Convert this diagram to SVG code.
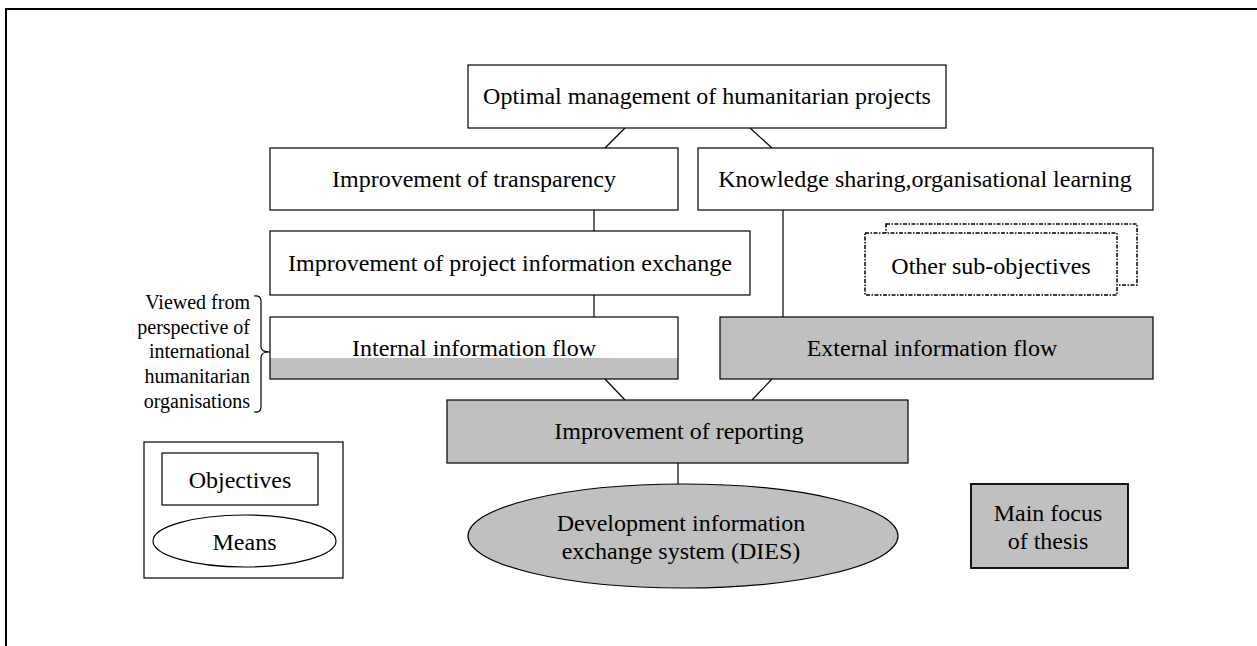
<svg xmlns="http://www.w3.org/2000/svg" width="1257" height="646" viewBox="0 0 1257 646">
  <defs>
    <style>
      .box { fill: #ffffff; stroke: #000000; stroke-width: 1.2; }
      .grey { fill: #c0c0c0; stroke: #000000; stroke-width: 1.2; }
      .dash { fill: #ffffff; stroke: #000000; stroke-width: 1.5; stroke-dasharray: 4 1.5 1.5 1.5; }
      .conn { stroke: #000000; stroke-width: 1.2; fill: none; }
      text { font-family: "Liberation Serif", "Times New Roman", serif; fill: #000000; }
      .lbl { font-size: 24px; text-anchor: middle; }
      .side { font-size: 20px; text-anchor: end; }
    </style>
  </defs>
  <rect width="1257" height="646" fill="#ffffff"/>

  <!-- outer frame (open to the right and bottom) -->
  <path d="M6,646 V9 H1257" fill="none" stroke="#000000" stroke-width="2"/>

  <!-- connectors -->
  <g id="connectors">
    <line class="conn" x1="625" y1="128" x2="605" y2="148"/>
    <line class="conn" x1="750" y1="128" x2="772" y2="148"/>
    <line class="conn" x1="594" y1="210" x2="594" y2="231"/>
    <line class="conn" x1="783" y1="210" x2="783" y2="317"/>
    <line class="conn" x1="594" y1="295" x2="594" y2="317"/>
    <line class="conn" x1="605" y1="379" x2="625" y2="400"/>
    <line class="conn" x1="772" y1="379" x2="752" y2="400"/>
    <line class="conn" x1="678" y1="463" x2="678" y2="484"/>
  </g>

  <g id="n-optimal">
    <rect class="box" x="468" y="65" width="478" height="63"/>
    <text class="lbl" x="707" y="104">Optimal management of humanitarian projects</text>
  </g>

  <g id="n-transparency">
    <rect class="box" x="270" y="148" width="408" height="62"/>
    <text class="lbl" x="474" y="187">Improvement of transparency</text>
  </g>

  <g id="n-knowledge">
    <rect class="box" x="698" y="148" width="455" height="62"/>
    <text class="lbl" x="925" y="187">Knowledge sharing,organisational learning</text>
  </g>

  <g id="n-exchange">
    <rect class="box" x="270" y="231" width="480" height="64"/>
    <text class="lbl" x="510" y="271">Improvement of project information exchange</text>
  </g>

  <g id="n-other">
    <rect class="dash" x="886" y="224" width="251" height="61"/>
    <rect class="dash" x="865" y="233" width="252" height="62"/>
    <text class="lbl" x="991" y="274">Other sub-objectives</text>
  </g>

  <g id="n-internal">
    <rect x="270" y="358" width="408" height="21" fill="#c0c0c0"/>
    <rect x="270" y="317" width="408" height="62" fill="none" stroke="#000000" stroke-width="1.2"/>
    <text class="lbl" x="474" y="356">Internal information flow</text>
  </g>

  <g id="n-external">
    <rect class="grey" x="720" y="317" width="433" height="62"/>
    <text class="lbl" x="932" y="356">External information flow</text>
  </g>

  <g id="n-perspective">
    <text class="side" x="250" y="309">Viewed from</text>
    <text class="side" x="250" y="334">perspective of</text>
    <text class="side" x="250" y="358">international</text>
    <text class="side" x="250" y="383">humanitarian</text>
    <text class="side" x="250" y="408">organisations</text>
    <path class="conn" d="M254,296 Q261,295 261,301 V347 Q261,352 270,352 Q261,352 261,357 V407 Q261,413 254,412"/>
  </g>

  <g id="n-reporting">
    <rect class="grey" x="447" y="400" width="461" height="63"/>
    <text class="lbl" x="679" y="439">Improvement of reporting</text>
  </g>

  <g id="n-dies">
    <ellipse class="grey" cx="683" cy="536" rx="215" ry="52"/>
    <text class="lbl" x="681" y="531">Development information</text>
    <text class="lbl" x="681" y="559">exchange system (DIES)</text>
  </g>

  <g id="n-legend">
    <rect class="box" x="144" y="442" width="199" height="136"/>
    <rect class="box" x="162" y="453" width="156" height="52"/>
    <text class="lbl" x="240" y="488">Objectives</text>
    <ellipse class="box" cx="244.5" cy="541" rx="91.5" ry="26"/>
    <text class="lbl" x="244.5" y="550">Means</text>
  </g>

  <g id="n-focus">
    <rect x="971" y="484" width="157" height="84" fill="#c0c0c0" stroke="#000000" stroke-width="1.8"/>
    <text class="lbl" x="1048" y="521">Main focus</text>
    <text class="lbl" x="1048" y="549">of thesis</text>
  </g>
</svg>
